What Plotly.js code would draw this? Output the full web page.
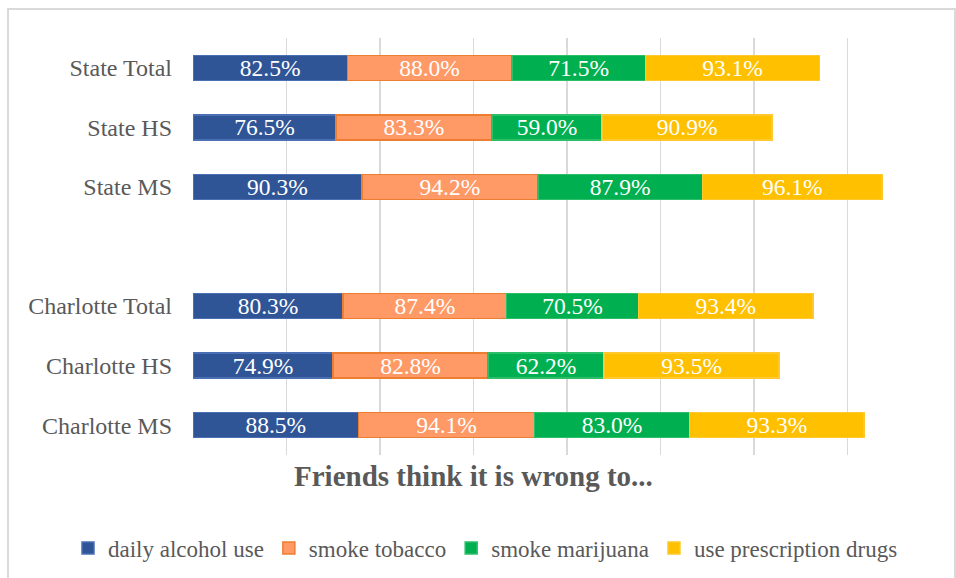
<!DOCTYPE html>
<html>
<head>
<meta charset="utf-8">
<script src="https://cdn.plot.ly/plotly-3.0.1.min.js"></script>
<style>html,body{margin:0;padding:0;background:#fff;}#chart{width:956px;height:578px;}</style>
</head>
<body>
<div id="chart"></div>
<script>
const categories = ['State Total', 'State HS', 'State MS', ' ', 'Charlotte Total', 'Charlotte HS', 'Charlotte MS'];
const alcohol   = [82.5, 76.5, 90.3, null, 80.3, 74.9, 88.5];
const tobacco   = [88.0, 83.3, 94.2, null, 87.4, 82.8, 94.1];
const marijuana = [71.5, 59.0, 87.9, null, 70.5, 62.2, 83.0];
const rxDrugs   = [93.1, 90.9, 96.1, null, 93.4, 93.5, 93.3];
const seriesNames = ['daily alcohol use', 'smoke tobacco', 'smoke marijuana', 'use prescription drugs'];
const tickVals = [0, 50, 100, 150, 200, 250, 300, 350, 400];

const font = 'Liberation Serif';
const fills = ['#2F5597', '#FF9966', '#00B050', '#FFC000'];
const lines = ['#4A6FB5', '#ED7D31', '#2DBE6A', '#FFC82E'];
const data = [alcohol, tobacco, marijuana, rxDrugs];

const traces = data.map((vals, i) => ({
  type: 'bar',
  orientation: 'h',
  name: seriesNames[i],
  y: categories,
  x: vals,
  text: vals.map(v => v == null ? '' : v.toFixed(1) + '%'),
  textposition: 'inside',
  insidetextanchor: 'middle',
  constraintext: 'none',
  textfont: {family: font, size: 23.5, color: '#FFFFFF'},
  insidetextfont: {family: font, size: 23.5, color: '#FFFFFF'},
  marker: {color: fills[i], line: {color: lines[i], width: 1.5}},
  hoverinfo: 'skip'
}));

const L = 193, R = 15, T = 38, B = 123;
const W = 956 - L - R, H = 578 - T - B;
const px = x => (x - L) / W;
const py = y => (578 - B - y) / H;

const layout = {
  width: 956, height: 578,
  font: {family: font, color: '#595959'},
  margin: {l: L, r: R, t: T, b: B, pad: 0, autoexpand: false},
  barmode: 'stack',
  bargap: 0.58,
  paper_bgcolor: '#FFFFFF',
  plot_bgcolor: '#FFFFFF',
  showlegend: true,
  xaxis: {
    range: [0, 400],
    tickvals: tickVals,
    showticklabels: false,
    showgrid: true,
    gridcolor: '#D9D9D9',
    gridwidth: 1.5,
    zeroline: false,
    showline: false,
    fixedrange: true
  },
  yaxis: {
    type: 'category',
    categoryorder: 'array',
    categoryarray: categories,
    autorange: 'reversed',
    showgrid: false,
    zeroline: false,
    showline: false,
    ticks: '',
    ticklabelstandoff: 20,
    tickfont: {family: font, size: 24, color: '#595959'},
    fixedrange: true
  },
  legend: {
    orientation: 'h',
    x: px(68), xanchor: 'left',
    y: py(548), yanchor: 'middle',
    font: {family: font, size: 23, color: '#595959'},
    itemwidth: 30,
    traceorder: 'normal'
  },
  annotations: [{
    text: '<b>Friends think it is wrong to...</b>',
    xref: 'paper', yref: 'paper',
    x: px(473), y: py(476),
    xanchor: 'center', yanchor: 'middle',
    showarrow: false,
    font: {family: font, size: 29, color: '#595959'}
  }],
  shapes: [{
    type: 'rect', xref: 'paper', yref: 'paper', layer: 'below',
    x0: px(8), x1: px(955), y0: py(585), y1: py(9),
    line: {color: '#D9D9D9', width: 2}, fillcolor: 'rgba(0,0,0,0)'
  }]
};

Plotly.newPlot('chart', traces, layout, {displayModeBar: false, staticPlot: true});
</script>
</body>
</html>
